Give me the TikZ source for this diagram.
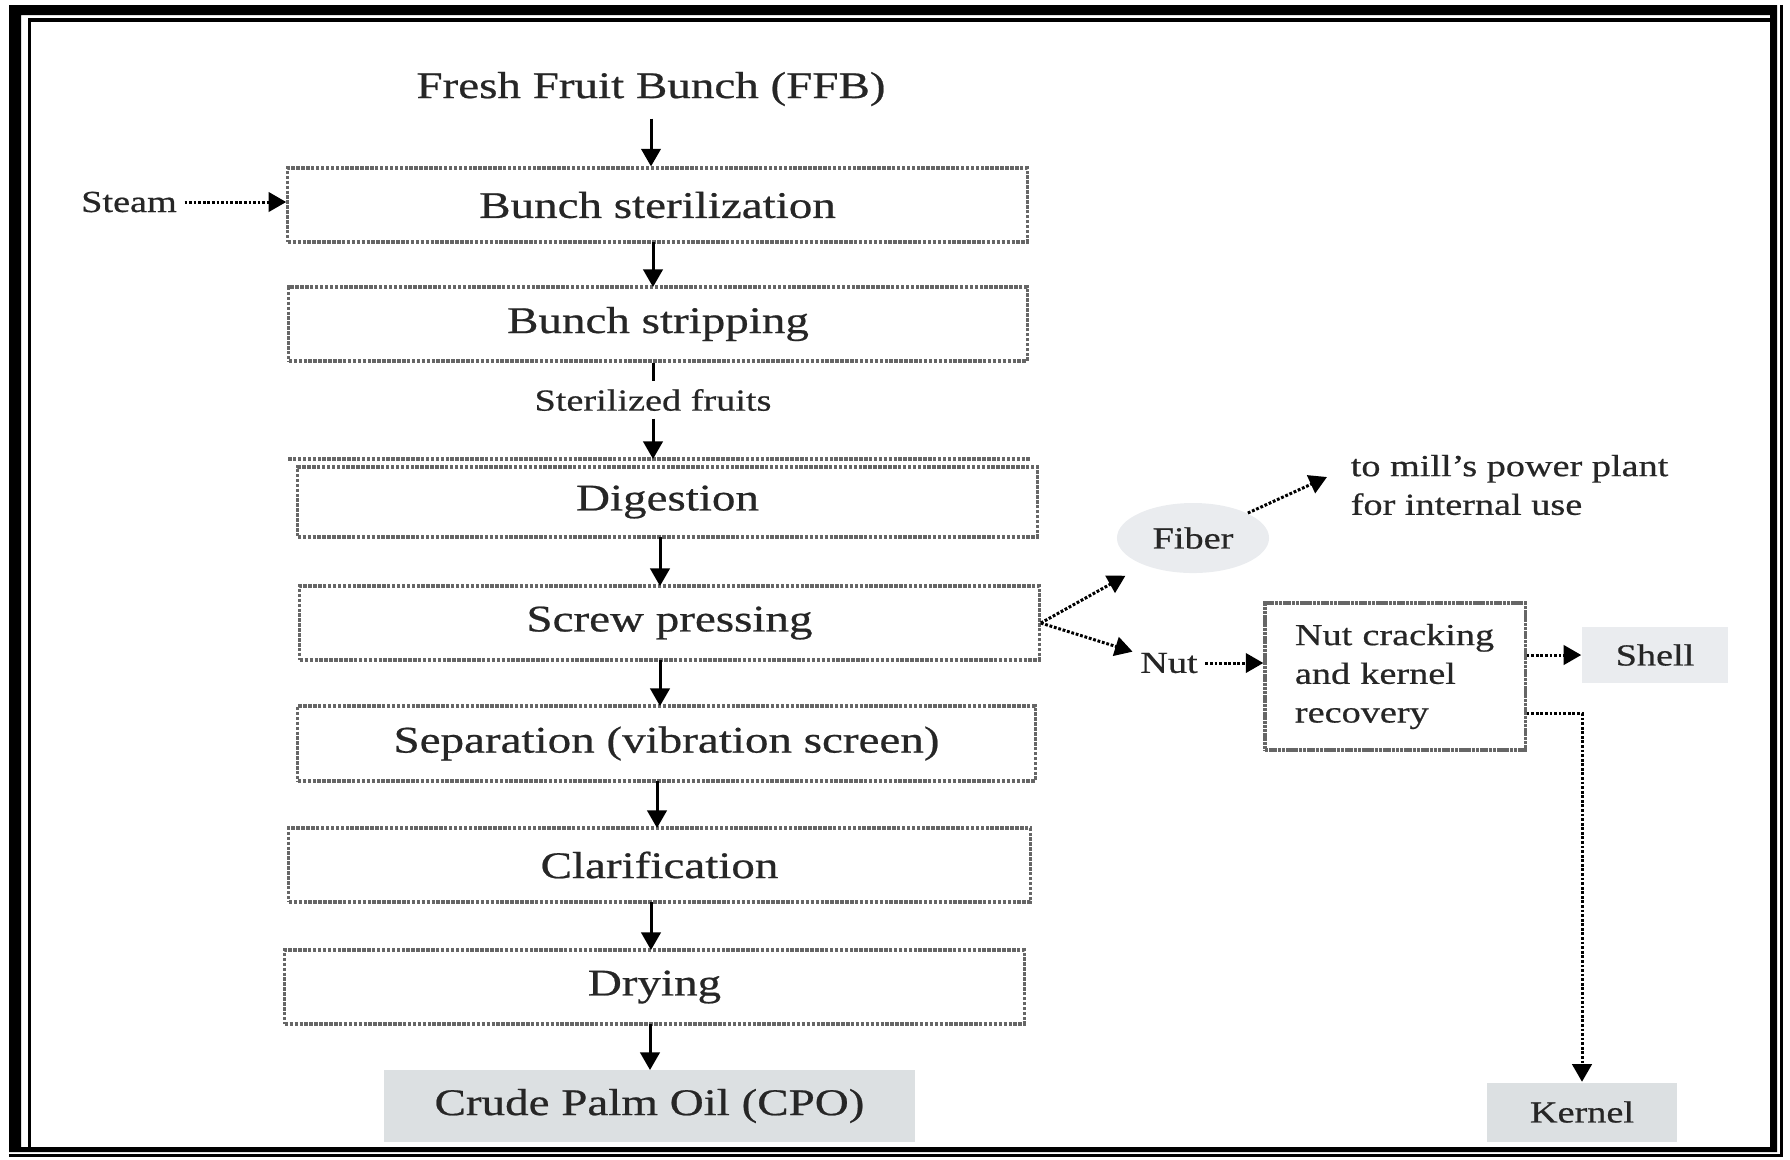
\documentclass[tikz,border=0pt]{standalone}
\usepackage{fontspec}
\setmainfont{Liberation Serif}[FakeStretch=1.25, UprightFeatures={FakeBold=0.6}]
\usetikzlibrary{arrows.meta,shapes.geometric}
\definecolor{oilgray}{RGB}{220,224,226}
\definecolor{shellgray}{RGB}{234,236,239}
\newcommand{\stagefont}{\fontsize{10.7}{13}\selectfont}
\newcommand{\notefont}{\fontsize{8.7}{11}\selectfont}
\begin{document}
\begin{tikzpicture}[x=0.01cm,y=-0.01cm,
	stage/.style={draw=black!60, dash pattern=on 1pt off 0.4pt, line width=0.9pt, minimum height=0.74cm, font=\stagefont, text=black!85},
	product/.style={fill=oilgray, minimum height=0.6cm, font=\notefont, text=black!85},
	note/.style={font=\notefont, text=black!85, inner sep=2pt},
	flow/.style={line width=0.85pt, -{Triangle[length=5pt,width=5.5pt]}},
	side/.style={line width=0.85pt, dash pattern=on 0.8pt off 0.5pt, -{Triangle[length=5pt,width=5.5pt]}}]
		\useasboundingbox (0,0) rectangle (1790,1159);
		% frame
		\fill[black, even odd rule] (9,5) rectangle (1777,1152) (21,15) rectangle (1770,1147);
		\draw[line width=1.1pt] (29.5,1147) |- (1770,20);
		\draw[line width=0.9pt] (1781.5,5) |- (9,1155.5);
		% main line
		\node[font=\stagefont, text=black!85] (ffb) at (651,89) {Fresh Fruit Bunch (FFB)};
		\node[stage, minimum width=7.39cm] (ster) at (657.5,205) {Bunch sterilization};
		\node[stage, minimum width=7.38cm] (strip) at (658,324) {Bunch stripping};
		\node[note] (fruits) at (653,400) {Sterilized fruits};
		\coordinate (digtop) at (653,459);
		\node[stage, minimum width=7.39cm, minimum height=0.70cm] (dig) at (667.5,502) {Digestion};
		\node[stage, minimum width=7.39cm] (screw) at (669.5,623) {Screw pressing};
		\node[stage, minimum width=7.37cm, minimum height=0.75cm] (sep) at (666.5,743.5) {Separation (vibration screen)};
		\node[stage, minimum width=7.41cm] (clar) at (659.5,865) {Clarification};
		\node[stage, minimum width=7.39cm] (dry) at (654.5,987) {Drying};
		\node[product, minimum width=5.31cm, minimum height=0.72cm, font=\stagefont] (cpo) at (649.5,1106) {Crude Palm Oil (CPO)};
		\node[note] (steam) at (129,202) {Steam};
		\draw[draw=black!60, dash pattern=on 1pt off 0.4pt, line width=0.9pt] (288,459) -- (1031,459);
		% by-products
		\node[ellipse, fill=shellgray, minimum width=1.52cm, minimum height=0.70cm, note] (fiber) at (1193,538) {Fiber};
		\node[note, anchor=west, align=left] (mill) at (1343,485) {to mill's power plant\\for internal use};
		\coordinate (milltip) at (1327,477);
		\node[note] (nut) at (1169,663) {Nut};
		\node[stage, font=\notefont, dash pattern=on 1pt off 0.2pt, minimum width=2.6cm, minimum height=1.47cm, text width=2cm, align=left, inner xsep=0.3cm] (crack) at (1395,676.5) {Nut cracking\\and kernel\\recovery};
		\node[product, fill=shellgray, minimum width=1.46cm, minimum height=0.56cm] (shell) at (1655,655) {Shell};
		\node[product, minimum width=1.89cm, minimum height=0.59cm] (kernel) at (1582,1112) {Kernel};
		% arrows
		\path[flow] (ffb) edge (ffb |- ster.north);
		\path[flow] (653,242) edge (653,287);
		\path[draw, line width=0.85pt] (fruits |- strip.south) edge (fruits);
		\path[flow] (fruits) edge (digtop);
		\path[flow] (660,537) edge (660,586);
		\path[flow] (660,660) edge (660,706);
		\path[flow] (657,781) edge (657,828);
		\path[flow] (651,902) edge (651,950);
		\path[flow] (650,1024) edge (650,1070);
		\path[side] (steam) edge (steam -| ster.west);
		\path[side] (screw.east) edge[shorten >=6pt] (fiber);
		\path[side] (screw.east) edge (nut);
		\path[side] (fiber) edge (milltip);
		\path[side] (nut) edge (nut -| crack.west);
		\path[side] (shell.west -| crack.east) edge (shell.west);
		\draw[side] ([yshift=-0.37cm]crack.east) -| (kernel.north);
	\end{tikzpicture}
\end{document}
